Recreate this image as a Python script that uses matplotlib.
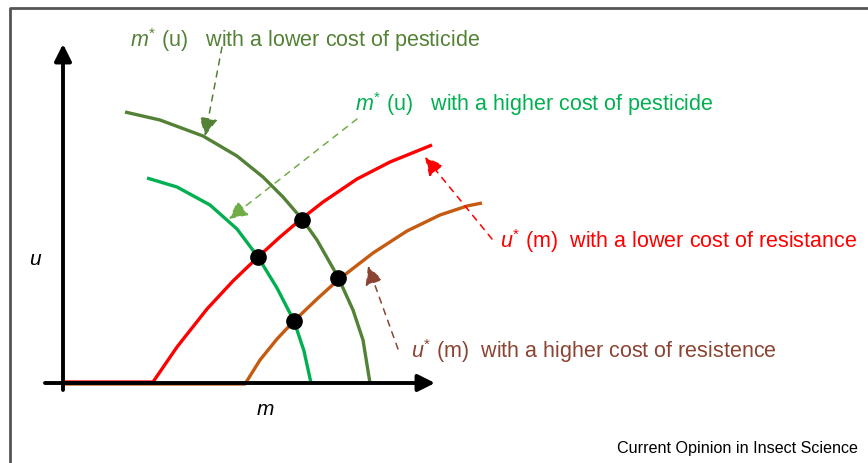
import matplotlib
matplotlib.use('Agg')
import matplotlib.pyplot as plt

plt.rcParams['font.family'] = ['Liberation Sans', 'DejaVu Sans']
plt.rcParams['mathtext.fontset'] = 'custom'
plt.rcParams['mathtext.rm'] = 'Liberation Sans'
plt.rcParams['mathtext.it'] = 'Liberation Sans:italic'

# schematic curves, (m, u), origin at the axis corner
m_low_pest = [62, 97, 140, 174, 200, 220, 239, 254, 275, 290, 300, 307]
u_low_pest = [271, 263, 247, 227, 206, 186, 164, 143, 106, 73, 43, 0]

m_high_pest = [84, 114, 147, 174, 195, 214, 231, 241, 248]
u_high_pest = [205, 196, 178, 154, 126, 95, 62, 32, 0]

m_low_res = [0, 90, 114, 144, 170, 195, 217, 237, 260, 294, 327, 369]
u_low_res = [1, 1, 36, 74, 102, 126, 146, 163, 181, 204, 221, 238]

m_high_res = [0, 182, 197, 214, 231, 254, 275, 310, 344, 377, 404, 419]
u_high_res = [-1, -1, 23, 44, 62, 84, 103, 130, 152, 168, 177, 180]

# equilibria
eq_m = [195, 239, 275, 231]
eq_u = [126, 163, 105, 62]

c_dark = '#538135'
c_light = '#00B050'
c_red = '#FF0000'
c_orange = '#C55A11'
c_brown = '#8B4433'

fig = plt.figure(figsize=(8.68, 4.64), dpi=100)
ax = fig.add_axes([0, 0, 1, 1])
ax.set_xlim(-63, 805)
ax.set_ylim(-80, 384)
ax.axis('off')

# frame (left and top only)
ax.plot([-53, -53, 805], [-80, 375, 375], color='#555555', lw=2.0, solid_capstyle='butt')

# axes with arrows
for tip, tail in [((0, 339), (0, -7)), ((372, 0), (-18, 0))]:
    ax.annotate('', xy=tip, xytext=tail,
                arrowprops=dict(arrowstyle='-|>,head_length=0.6,head_width=0.3', lw=2.8,
                                color='black', shrinkA=0, shrinkB=0, mutation_scale=17))

kw = dict(lw=2.4, solid_joinstyle='round', solid_capstyle='butt')
ax.plot(m_high_res, u_high_res, color=c_orange, **kw)
ax.plot(m_low_res, u_low_res, color=c_red, **kw)
ax.plot(m_high_pest, u_high_pest, color=c_light, **kw)
ax.plot(m_low_pest, u_low_pest, color=c_dark, **kw)
ax.plot(eq_m, eq_u, 'o', color='black', ms=11, zorder=5)

def dashed_arrow(tail, tip, col):
    ax.annotate('', xy=tip, xytext=tail,
                arrowprops=dict(arrowstyle='-|>,head_length=0.8,head_width=0.4', lw=1.1,
                                ls=(0, (4, 4)), color=col, shrinkA=0, shrinkB=0,
                                mutation_scale=14))

dashed_arrow((159, 336), (142, 247), c_dark)
dashed_arrow((294, 264), (166, 164), '#70AD47')
dashed_arrow((429, 144), (362, 226), c_red)
dashed_arrow((335, 34), (305, 117), c_brown)

fs = 15.5
ax.text(67, 344, r'$m^{*}$ (u)   with a lower cost of pesticide', color=c_dark,
        fontsize=fs, va='center', ha='left')
ax.text(292, 280, r'$m^{*}$ (u)   with a higher cost of pesticide', color=c_light,
        fontsize=fs, va='center', ha='left')
ax.text(437, 143, r'$u^{*}$ (m)  with a lower cost of resistance', color=c_red,
        fontsize=fs, va='center', ha='left')
ax.text(348, 33, r'$u^{*}$ (m)  with a higher cost of resistence', color=c_brown,
        fontsize=fs, va='center', ha='left')

ax.text(-28, 124, 'u', style='italic', fontsize=15, ha='center', va='center')
ax.text(202, -26, 'm', style='italic', fontsize=15, ha='center', va='center')
ax.text(795, -65, 'Current Opinion in Insect Science', fontsize=11.6,
        ha='right', va='center')

fig.savefig('out.png', dpi=100)
